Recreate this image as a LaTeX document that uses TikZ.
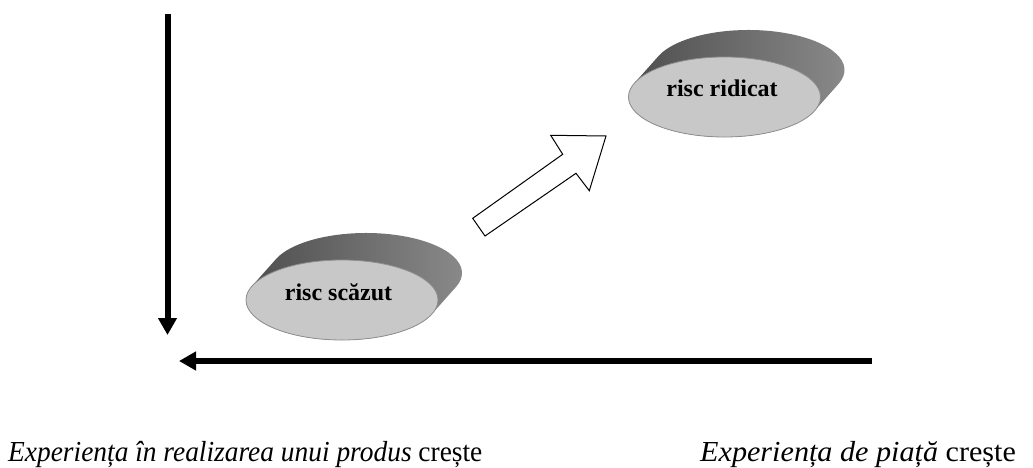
\documentclass[tikz,border=0pt]{standalone}
\usepackage{fontspec}
\setmainfont{Liberation Serif}
\newfontfamily\captionleftfont[FakeStretch=0.945]{Liberation Serif}
\newfontfamily\captionrightfont[FakeStretch=1.04]{Liberation Serif}
\usetikzlibrary{arrows.meta,shapes.geometric}

\definecolor{discface}{HTML}{C8C8C8}
\definecolor{discedge}{HTML}{8E8E8E}
\definecolor{sidedark}{HTML}{4A4A4A}
\definecolor{sidemid}{HTML}{585858}
\definecolor{sidelight}{HTML}{8C8C8C}

\tikzset{
  axis/.style={line width=6pt, -{Triangle[length=17pt,width=18pt]}},
  discside/.style={left color=sidedark, middle color=sidemid, right color=sidelight},
  discfront/.style={ellipse, fill=discface, draw=discedge, line width=0.8pt,
    minimum width=192pt, minimum height=80pt, inner sep=0pt},
  disclabel/.style={font=\bfseries\fontsize{24}{24}\selectfont, anchor=base, inner sep=0pt},
  blockarrow/.style={draw=black, fill=white, line width=1pt, line join=miter},
  caption/.style={anchor=base west, inner sep=0pt},
}

% #1 node name, #2 centre of the front face, #3 label position, #4 label text
\newcommand{\riskdisc}[4]{%
  \shade[discside] (#2) ++(-90.04,13.88)
    arc[start angle=159.7, end angle=339.7, x radius=96pt, y radius=40pt]
    -- ++(24,27)
    arc[start angle=-20.3, end angle=159.7, x radius=96pt, y radius=40pt]
    -- cycle;
  \node[discfront] (#1) at (#2) {};
  \node[disclabel] (#1text) at (#3) {#4};
}

\begin{document}
\begin{tikzpicture}[x=1pt, y=1pt]
  \useasboundingbox (0,0) rectangle (1033,-468);

  % axes
  \coordinate (vtop) at (167.5,-14);
  \coordinate (vtip) at (167.5,-335);
  \coordinate (hstart) at (872,-361);
  \coordinate (htip) at (179,-361);
  \draw[axis] (vtop) -- (vtip);
  \draw[axis] (hstart) -- (htip);

  % the two risk discs
  \riskdisc{low}{342,-300}{338.5,-300}{risc scăzut}
  \riskdisc{high}{724.5,-97}{722,-97}{risc ridicat}

  % hollow block arrow between them
  \draw[blockarrow] (472.7,-218.3) -- (485,-236) -- (576,-173.3) -- (589.3,-190.7)
    -- (606,-136) -- (550.7,-135.3) -- (562.7,-154.3) -- cycle;

  % captions
  \node[caption, font=\captionleftfont\fontsize{29}{29}\selectfont] (capleft) at (8,-461)
    {\textit{Experiența în realizarea unui produs} crește};
  \node[caption, font=\captionrightfont\fontsize{29}{29}\selectfont] (capright) at (700,-461)
    {\textit{Experiența de piață} crește};
\end{tikzpicture}
\end{document}
